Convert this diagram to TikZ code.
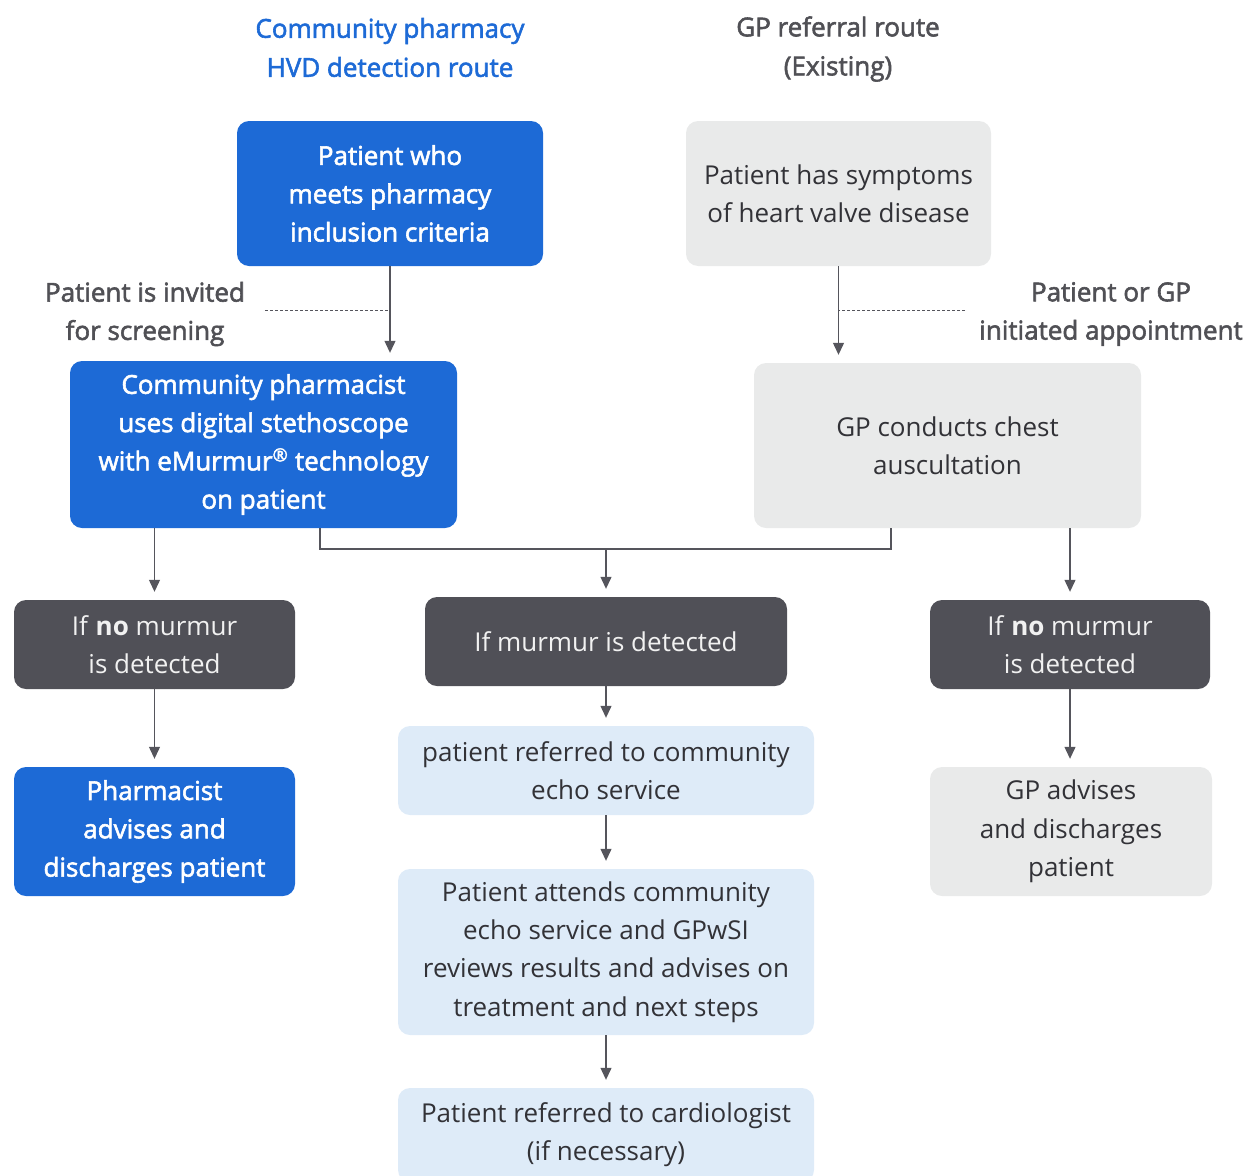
\documentclass[tikz,border=0pt]{standalone}
\usepackage{fontspec}
\setmainfont{Open Sans}
\newfontfamily\medfont{Open Sans}[FakeBold=2.2]
\usetikzlibrary{arrows.meta}
\definecolor{pblue}{RGB}{29,106,214}
\definecolor{lgray}{RGB}{233,234,234}
\definecolor{dgray}{RGB}{80,80,87}
\definecolor{lblue}{RGB}{222,235,248}
\definecolor{txtdark}{RGB}{50,50,55}
\definecolor{lblgray}{RGB}{80,80,85}
\definecolor{linec}{RGB}{85,85,92}
\begin{document}
\begin{tikzpicture}[x=1pt,y=-1pt,
  base/.style={rounded corners=12pt, inner sep=0pt, align=center,
    font=\fontsize{26}{38.3}\selectfont},
  bluebox/.style={base, fill=pblue, text=white, font=\fontsize{26}{38.3}\selectfont\medfont},
  graybox/.style={base, fill=lgray, text=txtdark},
  darkbox/.style={base, fill=dgray, text=white!92!dgray},
  lbluebox/.style={base, fill=lblue, text=txtdark},
  heading/.style={align=center, inner sep=0pt, font=\fontsize{26}{39}\selectfont\medfont},
  sidelabel/.style={align=center, inner sep=0pt, text=lblgray, font=\fontsize{26}{38.3}\selectfont\medfont},
  conn/.style={draw=linec, line width=1.2pt},
  arr/.style={conn, -{Triangle[length=12pt,width=11pt]}, shorten >=8pt},
  dashline/.style={draw=linec, line width=0.8pt, dash pattern=on 3pt off 2pt}
]
\useasboundingbox (0,0) rectangle (1252,1175);

% headings
\node[heading, text=pblue] (h1) at (390,47.5) {Community pharmacy\\HVD detection route};
\node[heading, text=lblgray] (h2) at (838,49) {GP referral route\\(Existing)};

% top boxes
\node[bluebox, minimum width=306pt, minimum height=145pt] (A) at (390,193.5)
  {Patient who\\meets pharmacy\\inclusion criteria};
\node[graybox, minimum width=305pt, minimum height=145pt] (B) at (838.5,193.5)
  {Patient has symptoms\\of heart valve disease};

% second row
\node[bluebox, minimum width=387pt, minimum height=167pt] (C) at (263.5,444.5)
  {Community pharmacist\\uses digital stethoscope\\with eMurmur\textsuperscript{®} technology\\on patient};
\node[graybox, minimum width=387pt, minimum height=165pt] (D) at (947.5,445.5)
  {GP conducts chest\\auscultation};

% side labels
\node[sidelabel] (L1) at (145,314) {Patient is invited\\for screening};
\node[sidelabel] (L2) at (1111,314) {Patient or GP\\initiated appointment};

% third row
\node[darkbox, minimum width=281pt, minimum height=89pt] (E) at (154.5,644.5)
  {If \textbf{no} murmur\\is detected};
\node[darkbox, minimum width=362pt, minimum height=89pt] (F) at (606,641.5)
  {If murmur is detected};
\node[darkbox, minimum width=280pt, minimum height=89pt] (G) at (1070,644.5)
  {If \textbf{no} murmur\\is detected};

% fourth row
\node[bluebox, minimum width=281pt, minimum height=129pt] (H) at (154.5,831.5)
  {Pharmacist\\advises and\\discharges patient};
\node[graybox, minimum width=282pt, minimum height=129pt] (I) at (1071,831.5)
  {GP advises\\and discharges\\patient};

% centre column
\node[lbluebox, minimum width=416pt, minimum height=89pt] (J) at (606,770.5)
  {patient referred to community\\echo service};
\node[lbluebox, minimum width=416pt, minimum height=166pt] (K) at (606,952)
  {Patient attends community\\echo service and GPwSI\\reviews results and advises on\\treatment and next steps};
\node[lbluebox, minimum width=416pt, minimum height=94pt] (L) at (606,1135)
  {Patient referred to cardiologist\\(if necessary)};

% coordinates
\coordinate (dA) at (265,310);
\coordinate (dB) at (965,310);
\coordinate (jn) at (606,549);
\coordinate (jl) at (320,549);
\coordinate (jr) at (891,549);

% connectors
\draw[arr] (A.south) -- (A.south |- C.north);
\draw[arr] (B.south) -- (B.south |- D.north);
\draw[dashline] (dA) -- (dA -| A.south);
\draw[dashline] (dB) -- (dB -| B.south);

\draw[arr] (C.south -| E.north) -- (E.north);
\draw[arr] (D.south -| G.north) -- (G.north);
\draw[conn] (C.south -| jl) -- (jl) -- (jr) -- (D.south -| jr);
\draw[arr] (jn) -- (F.north);

\draw[arr] (E.south) -- (H.north);
\draw[arr] (G.south) -- (G.south |- I.north);
\draw[arr] (F.south) -- (J.north);
\draw[arr] (J.south) -- (K.north);
\draw[arr] (K.south) -- (L.north);
\end{tikzpicture}
\end{document}
